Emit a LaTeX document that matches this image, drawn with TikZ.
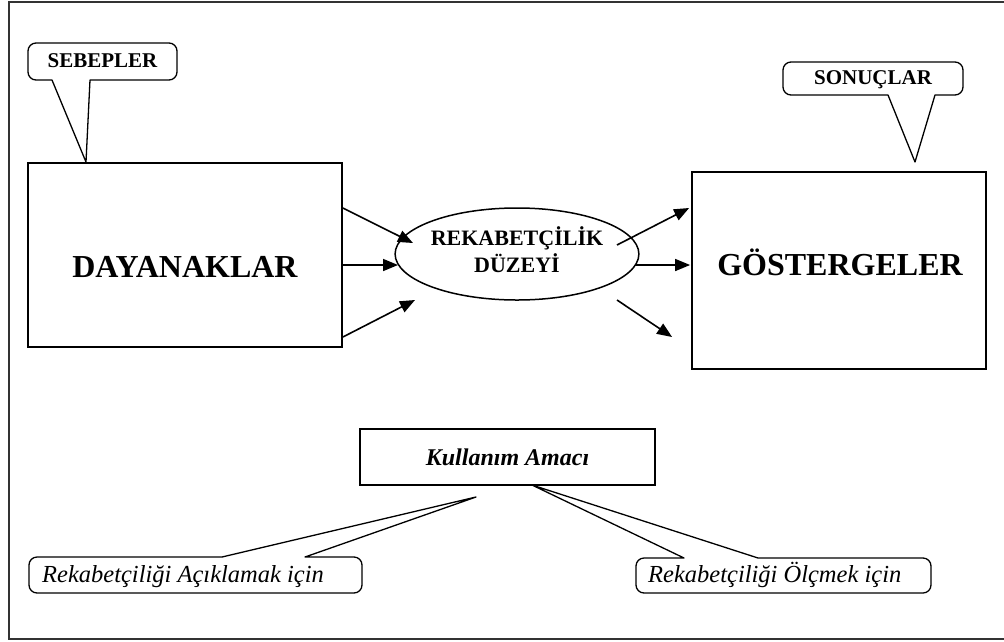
\documentclass[tikz,border=0pt]{standalone}
\usepackage{fontspec}
\setmainfont{Liberation Serif}
\usetikzlibrary{calc,shapes.geometric,arrows.meta}
\tikzset{
	kutu/.style={draw, line width=1.8pt, inner sep=0pt},
	baslik/.style={font=\fontsize{32}{38}\selectfont\bfseries},
	balon/.style={line width=1.3pt, line cap=round, line join=round},
	balonyazi/.style={font=\fontsize{21}{24}\selectfont\bfseries, inner sep=0pt},
	amacyazi/.style={font=\fontsize{24.5}{28}\selectfont\itshape, inner sep=0pt},
	ok/.style={line width=1.6pt, -{Triangle[length=15pt,width=12pt]}}
}

\begin{document}
\begin{tikzpicture}[x=1pt,y=-1pt]
				\useasboundingbox (0,0) rectangle (1004,641);
				\draw[line width=1.5pt, black!80] (9,2) rectangle (1012,639);
				
				\node[kutu, minimum width=314, minimum height=184] (dayanak) at (185,255) {};
				\node[baslik, anchor=base] (dayanakyazi) at (185,277) {DAYANAKLAR};
				
				\node[kutu, minimum width=294, minimum height=197] (gosterge) at (839,270.5) {};
				\node[baslik, anchor=base] (göstergeyazi) at (840,275) {GÖSTERGELER};
				
				\node[draw, ellipse, line width=1.5pt, minimum width=240, minimum height=92, inner sep=0pt, text depth=8pt,
					align=center, font=\fontsize{22}{27}\selectfont\bfseries] (duzey) at (517,254) {REKABETÇİLİK\\DÜZEYİ};
				
				\draw[ok] ($(dayanak.east)+(0,-47)$) -- ($(duzey.center)+(-104,-11)$);
				\draw[ok] ($(dayanak.east)+(0,10)$) -- ($(duzey.center)+(-119,11)$);
				\draw[ok] ($(dayanak.east)+(0,82)$) -- ($(duzey.center)+(-102,46)$);
				
				\draw[ok] ($(duzey.center)+(100,-9)$) -- ($(gosterge.west)+(-2,-62.5)$);
				\draw[ok] ($(duzey.center)+(118,11)$) -- ($(gosterge.west)+(-1,-5.5)$);
				\draw[ok] ($(duzey.center)+(100,46)$) -- ($(gosterge.west)+(-19,66.5)$);
				
				\draw[balon] (52,80) -- (86,162) -- (90,80) [rounded corners=8] -- (177,80) -- (177,43) -- (28,43) -- (28,80) -- (52,80);
				\node[balonyazi, anchor=base] (sebepler) at (102.5,67) {SEBEPLER};
				
				\draw[balon] (888,95) -- (915,162) -- (935,95) [rounded corners=8] -- (963,95) -- (963,62) -- (783,62) -- (783,95) -- (888,95);
				\node[balonyazi, anchor=base] (sonuclar) at (873,84) {SONUÇLAR};
				
				\node[kutu, minimum width=295, minimum height=56, font=\fontsize{24}{28}\selectfont\bfseries\itshape] (amac) at (507.5,457) {Kullanım Amacı};
				
				\draw[balon] (222,557) -- (476,497) -- (305,557) [rounded corners=8] -- (362,557) -- (362,593) -- (29,593) -- (29,557) -- (222,557);
				\node[amacyazi, anchor=base west] (aciklama) at (42,582) {Rekabetçiliği Açıklamak için};
				
				\draw[balon] (684,558) -- (532,485) -- (758,558) [rounded corners=8] -- (931,558) -- (931,593) -- (636,593) -- (636,558) -- (684,558);
				\node[amacyazi, anchor=base west] (olcme) at (648,582) {Rekabetçiliği Ölçmek için};
			\end{tikzpicture}
\end{document}
